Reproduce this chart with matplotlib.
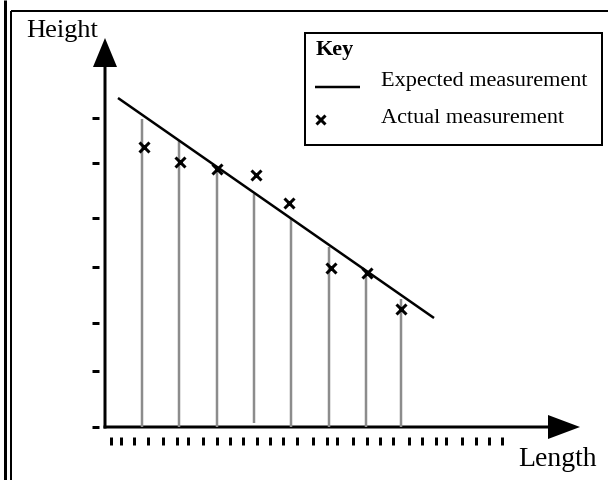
import matplotlib
matplotlib.use("Agg")
import matplotlib.pyplot as plt

# everything is laid out in a 608 x 480 "pixel" data space (y grows downwards)
W, H = 608, 480

# sample positions along the length axis and the measured values
sample_x = [142, 179, 217, 254, 291, 329, 366, 401]
expected_top = [119, 141, 166, 194, 218, 247, 270, 299]
sample_bottom = [427, 427, 427, 423, 427, 427, 427, 427]
actual_x = [144, 180, 217, 256, 289, 331, 367, 401]
actual_y = [147, 162, 169, 175, 203, 268, 273, 309]

# expected measurement line (start, end)
fit_x = [118, 434]
fit_y = [98, 318]

# unlabeled tick dashes
ytick_pos = [118, 163, 218, 267, 323, 371, 427]
xtick_pos = [111, 121, 134, 148, 163, 177, 188, 203, 217, 230, 243, 257,
             270, 283, 297, 313, 327, 337, 353, 367, 380, 393, 409, 422,
             436, 446, 462, 476, 489, 502]

legend_labels = ["Expected measurement", "Actual measurement"]

PX = 0.72  # points per pixel at dpi 100

fig = plt.figure(figsize=(6.08, 4.80), dpi=100)
ax = fig.add_axes([0, 0, 1, 1])
ax.set_xlim(0, W)
ax.set_ylim(H, 0)
ax.axis("off")

serif = ["Liberation Serif", "DejaVu Serif"]

# outer frame
ax.plot([4.5, 4.5], [0, H], color="black", lw=3 * PX, solid_capstyle="butt")
ax.plot([11, 11], [11, H], color="black", lw=2 * PX, solid_capstyle="butt")
ax.plot([11, W], [11, 11], color="black", lw=2 * PX, solid_capstyle="butt")

# gray drop lines
ax.vlines(sample_x, expected_top, sample_bottom, color="#8c8c8c", lw=2.5 * PX)

# axes with arrows
ax.arrow(105, 428.5, 0, 38 - 428.5, width=3, head_width=24, head_length=29,
         length_includes_head=True, color="black", lw=0)
ax.arrow(103.5, 427, 580 - 103.5, 0, width=3, head_width=24, head_length=32,
         length_includes_head=True, color="black", lw=0)

# tick dashes
ax.plot([95] * len(ytick_pos), ytick_pos, ls="none", marker="_",
        markersize=7 * PX, mew=3 * PX, color="black")
ax.vlines(xtick_pos, 437, 445, color="black", lw=3 * PX)

# expected line and actual measurements
ax.plot(fit_x, fit_y, color="black", lw=2.5 * PX, solid_capstyle="butt")
ax.plot(actual_x, actual_y, ls="none", marker="x", markersize=10 * PX,
        mew=3 * PX, color="black")

# axis labels
ax.text(26, 37, "Height", family=serif, fontsize=19, ha="left", va="baseline")
ax.text(597, 466, "Length", family=serif, fontsize=20, ha="right", va="baseline")

# key box
ax.add_patch(plt.Rectangle((305, 33), 297, 112, fill=False, ec="black",
                           lw=2 * PX))
ax.text(316, 55, "Key", family=serif, fontsize=16, fontweight="bold",
        ha="left", va="baseline")
ax.plot([315, 360], [87, 87], color="black", lw=2.5 * PX, solid_capstyle="butt")
ax.text(381, 86, legend_labels[0], family=serif, fontsize=16, ha="left",
        va="baseline")
ax.plot([320], [119], ls="none", marker="x", markersize=9 * PX, mew=3 * PX,
        color="black")
ax.text(381, 123, legend_labels[1], family=serif, fontsize=16, ha="left",
        va="baseline")

fig.savefig("out.png", dpi=100)
